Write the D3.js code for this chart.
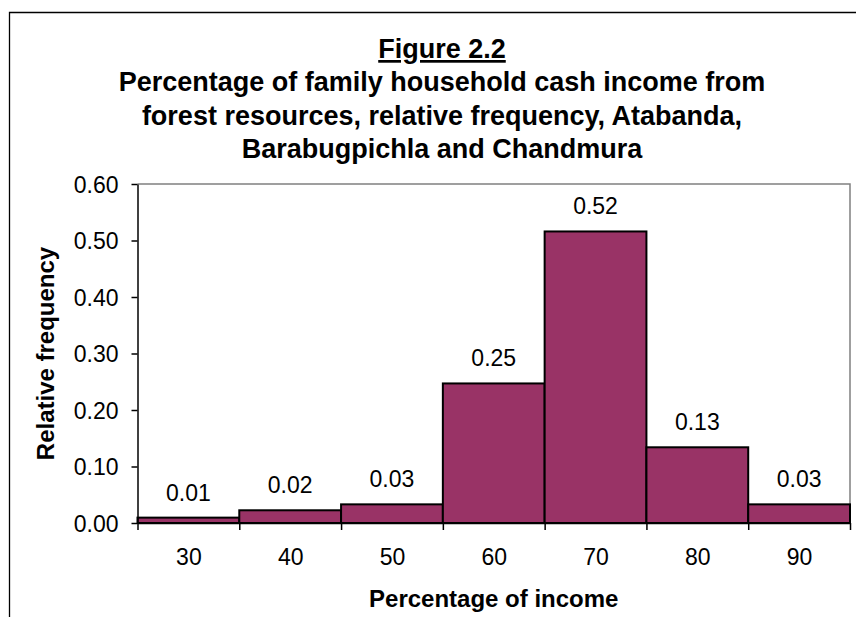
<!DOCTYPE html>
<html>
<head>
<meta charset="utf-8">
<script src="https://cdn.jsdelivr.net/npm/d3@7"></script>
<style>
  body { margin: 0; background: #fff; }
  text { font-family: Arial, "Liberation Sans", sans-serif; fill: #000; }
</style>
</head>
<body>
<svg width="856" height="617"></svg>
<script>
// data
const categories = [30, 40, 50, 60, 70, 80, 90];
const relFreq = [0.0095, 0.0225, 0.033, 0.247, 0.516, 0.134, 0.033];
const yTicks = [0, 0.1, 0.2, 0.3, 0.4, 0.5, 0.6];
const titleLines = [
  "Percentage of family household cash income from",
  "forest resources, relative frequency, Atabanda,",
  "Barabugpichla and Chandmura"
];
const figureLabel = "Figure 2.2";
const xTitle = "Percentage of income";
const yTitle = "Relative frequency";

const svg = d3.select("svg");
const fmt = d3.format(".2f");
const binW = 10;

// plot area
const plotL = 137.5, plotR = 850, plotT = 184, plotB = 523;

const x = d3.scaleLinear()
  .domain([categories[0] - binW / 2, categories[categories.length - 1] + binW / 2])
  .range([plotL, plotR]);
const y = d3.scaleLinear().domain([0, 0.6]).range([plotB, plotT]);

// chart frame (runs off the page right and bottom)
svg.append("path")
  .attr("d", "M9.5,640 V12.5 H900")
  .attr("fill", "none")
  .attr("stroke", "#000")
  .attr("stroke-width", 1.3);

// plot area border (grey top & right)
svg.append("path")
  .attr("d", `M${plotL},${plotT} H${plotR} V${plotB}`)
  .attr("fill", "none")
  .attr("stroke", "#808080")
  .attr("stroke-width", 1.5);

// title
const title = svg.append("g").attr("font-weight", "bold").attr("font-size", 27);
title.append("text")
  .attr("x", 442).attr("y", 58)
  .attr("text-anchor", "middle")
  .attr("text-decoration", "underline")
  .text(figureLabel);
title.selectAll(".tl")
  .data(titleLines)
  .enter().append("text")
  .attr("class", "tl")
  .attr("x", 442)
  .attr("y", function (d, i) { return 91 + i * 33.5; })
  .attr("text-anchor", "middle")
  .text(function (d) { return d; });

// bars
svg.append("g")
  .selectAll("rect")
  .data(categories)
  .enter().append("rect")
  .attr("x", function (d) { return x(d - binW / 2); })
  .attr("y", function (d, i) { return y(relFreq[i]); })
  .attr("width", x(binW) - x(0))
  .attr("height", function (d, i) { return y(0) - y(relFreq[i]); })
  .attr("fill", "#993366")
  .attr("stroke", "#000")
  .attr("stroke-width", 2);

// value labels
svg.append("g")
  .selectAll("text")
  .data(categories)
  .enter().append("text")
  .attr("x", function (d) { return x(d); })
  .attr("y", function (d, i) { return y(relFreq[i]) - 17; })
  .attr("text-anchor", "middle")
  .attr("font-size", 23)
  .text(function (d, i) { return fmt(relFreq[i]); });

// y axis
const yAxis = svg.append("g")
  .attr("transform", `translate(${plotL},0)`)
  .call(d3.axisLeft(y).tickValues(yTicks).tickFormat(fmt).tickSize(6).tickSizeOuter(0).tickPadding(13));
yAxis.selectAll("text").attr("font-size", 23).attr("dy", "0.36em");
yAxis.selectAll("line, path").attr("stroke", "#000").attr("stroke-width", 1.5);

// x axis: tick marks on bin edges, labels at bin centres
const edges = categories.map(function (d) { return d - binW / 2; })
  .concat([categories[categories.length - 1] + binW / 2]);
const xAxis = svg.append("g")
  .attr("transform", `translate(0,${plotB})`)
  .call(d3.axisBottom(x).tickValues(edges).tickFormat("").tickSize(7).tickSizeOuter(0));
xAxis.selectAll("line, path").attr("stroke", "#000").attr("stroke-width", 1.5);

const xLabels = svg.append("g")
  .attr("transform", `translate(0,${plotB})`)
  .call(d3.axisBottom(x).tickValues(categories).tickFormat(d3.format("d")).tickSize(0).tickPadding(26));
xLabels.select(".domain").remove();
xLabels.selectAll("text").attr("font-size", 23);

// axis titles
svg.append("text")
  .attr("x", (plotL + plotR) / 2)
  .attr("y", 607)
  .attr("text-anchor", "middle")
  .attr("font-weight", "bold")
  .attr("font-size", 24)
  .text(xTitle);

svg.append("text")
  .attr("transform", `translate(54,${(plotT + plotB) / 2}) rotate(-90)`)
  .attr("text-anchor", "middle")
  .attr("font-weight", "bold")
  .attr("font-size", 24)
  .text(yTitle);
</script>
</body>
</html>
